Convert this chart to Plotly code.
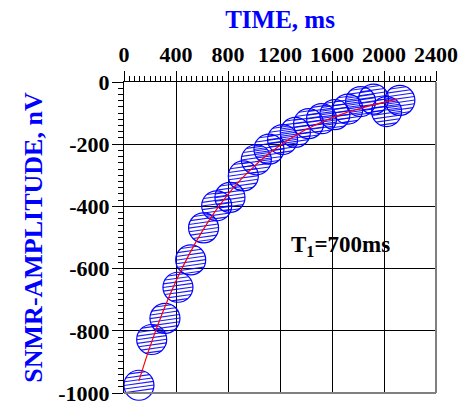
import math
import plotly.graph_objects as go

# ---- data ----
time_ms = [115, 213, 315, 415, 513, 612, 713, 815, 918, 1018, 1115,
           1220, 1318, 1420, 1520, 1622, 1722, 1820, 1920, 2020, 2122]
amplitude_nv = [-975, -828, -760, -660, -572, -469, -398, -371, -302, -250, -216,
                -185, -162, -134, -118, -105, -87, -63, -55, -95, -59]

fit_time_ms = [115, 200, 300, 400, 500, 600, 700, 800, 900, 1000, 1100,
               1200, 1300, 1400, 1500, 1600, 1700, 1800, 1900, 2000, 2100]
fit_amplitude_nv = [-961, -851, -738, -640, -555, -481, -417, -361, -313, -272, -235,
                    -204, -177, -153, -133, -115, -100, -87, -75, -65, -56]

x_ticks = [0, 400, 800, 1200, 1600, 2000, 2400]
y_ticks = [0, -200, -400, -600, -800, -1000]

# ---- layout geometry ----
W, H = 463, 401
ML, MR, MT, MB = 124, 27, 82, 8
XR = [0, 2400]
YR = [-1000, 0]
sx = (W - ML - MR) / (XR[1] - XR[0])   # px per ms
sy = (H - MT - MB) / (YR[1] - YR[0])   # px per nV

# hatch lines inside each circle, computed in pixel space, converted to data
R = 15.0
theta = math.radians(8)
ux, uy = math.cos(theta), math.sin(theta)
nx, ny = -math.sin(theta), math.cos(theta)
hx, hy = [], []
for t, a in zip(time_ms, amplitude_nv):
    cx, cy = t * sx, a * sy
    for d in (-12.6, -9, -5.4, -1.8, 1.8, 5.4, 9, 12.6):
        h = math.sqrt(R * R - d * d)
        px, py = cx + d * nx, cy + d * ny
        hx += [(px - h * ux) / sx, (px + h * ux) / sx, None]
        hy += [(py - h * uy) / sy, (py + h * uy) / sy, None]

font_family = "Liberation Serif, Times New Roman, serif"

fig = go.Figure()
fig.add_trace(go.Scatter(
    x=hx, y=hy, mode="lines",
    line=dict(color="rgba(0,0,255,0.9)", width=1.1),
    hoverinfo="skip", showlegend=False, cliponaxis=False))
fig.add_trace(go.Scatter(
    x=time_ms, y=amplitude_nv, mode="markers",
    marker=dict(symbol="circle-open", size=30, color="blue",
                line=dict(color="blue", width=1.2)),
    showlegend=False, cliponaxis=False))
fig.add_trace(go.Scatter(
    x=fit_time_ms, y=fit_amplitude_nv, mode="lines",
    line=dict(color="red", width=1.2, shape="spline"),
    showlegend=False, cliponaxis=False))

fig.update_layout(
    width=W, height=H,
    margin=dict(l=ML, r=MR, t=MT, b=MB, autoexpand=False),
    paper_bgcolor="white", plot_bgcolor="white",
    font=dict(family=font_family, color="black"),
    xaxis=dict(
        side="top", range=XR, tickvals=x_ticks,
        ticktext=[str(v) for v in x_ticks],
        ticks="outside", ticklen=10, tickcolor="black", tickwidth=1,
        tickfont=dict(family=font_family, size=22, weight="bold", color="black"),
        ticklabeloverflow="allow", automargin=False,
        showgrid=True, gridcolor="black", gridwidth=1,
        showline=True, linecolor="black", linewidth=1,
        zeroline=False,
        minor=dict(dtick=40, ticks="outside", ticklen=5, tickcolor="black", showgrid=False),
        title=dict(text="TIME, ms", standoff=6,
                   font=dict(family=font_family, size=25, weight="bold", color="blue")),
    ),
    yaxis=dict(
        range=YR, tickvals=y_ticks,
        ticktext=[str(v) for v in y_ticks],
        ticks="outside", ticklen=11, tickcolor="black", tickwidth=1,
        tickfont=dict(family=font_family, size=22, weight="bold", color="black"),
        ticklabeloverflow="allow", automargin=False, ticklabelstandoff=-2,
        showgrid=True, gridcolor="black", gridwidth=1,
        showline=True, linecolor="black", linewidth=1,
        zeroline=False,
        minor=dict(dtick=20, ticks="outside", ticklen=5, tickcolor="black", showgrid=False),
        title=dict(text="SNMR-AMPLITUDE, nV", standoff=8,
                   font=dict(family=font_family, size=26, weight="bold", color="blue")),
    ),
    shapes=[
        dict(type="line", xref="paper", yref="paper", x0=0, x1=1, y0=0, y1=0,
             line=dict(color="gray", width=2), layer="above"),
        dict(type="line", xref="paper", yref="paper", x0=1, x1=1, y0=0, y1=1,
             line=dict(color="gray", width=2), layer="above"),
    ],
    annotations=[
        dict(x=1669, y=-527, xref="x", yref="y", showarrow=False,
             text="T<sub>1</sub>=700ms",
             font=dict(family=font_family, size=23, weight="bold", color="black")),
    ],
)

fig.write_html("out.html", config={"displayModeBar": False},
               post_script="document.body.style.margin='0px';document.body.style.overflow='hidden';")
